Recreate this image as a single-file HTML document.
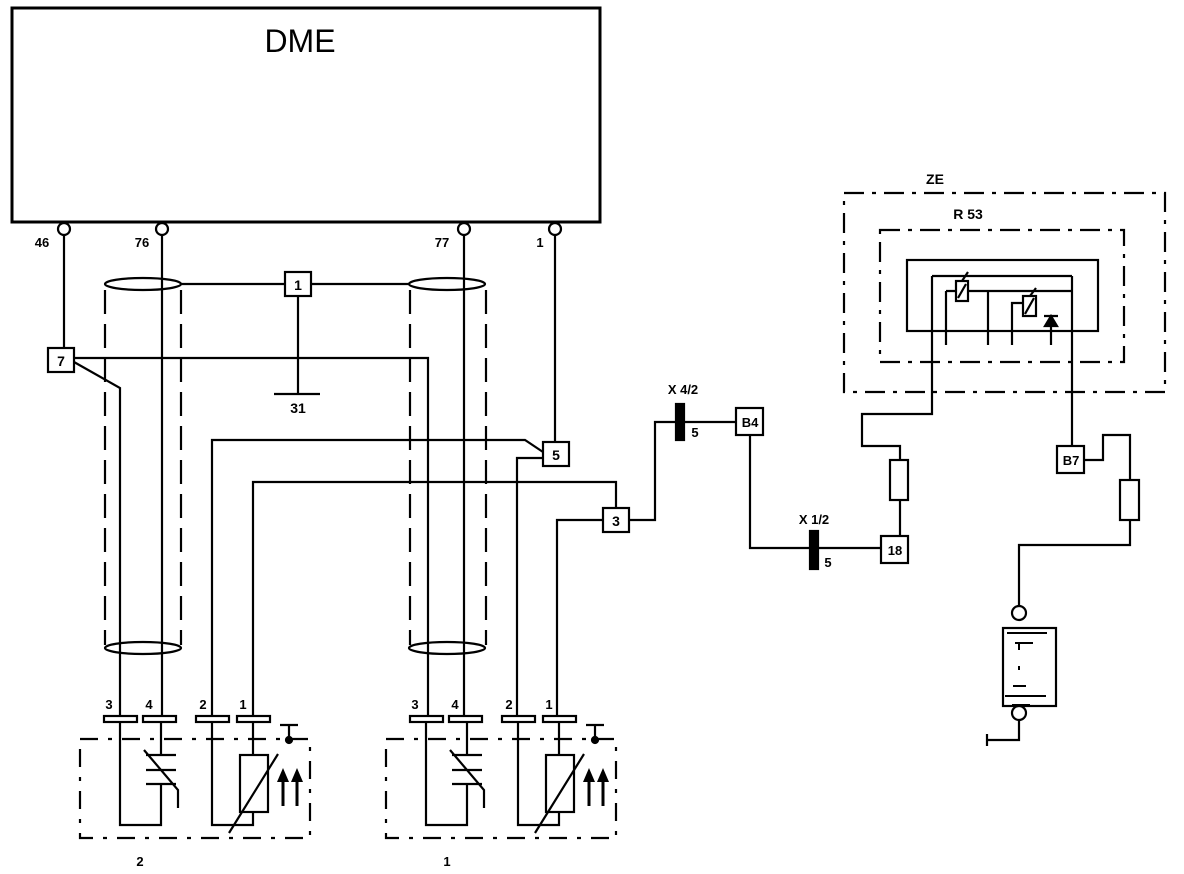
<!DOCTYPE html>
<html><head><style>html,body{margin:0;padding:0;background:#fff}svg{display:block}</style></head>
<body>
<svg width="1184" height="874" viewBox="0 0 1184 874" xmlns="http://www.w3.org/2000/svg" font-family="Liberation Sans, sans-serif" font-weight="bold" fill="none" stroke="#000" stroke-width="2.2">
<rect x="12" y="8" width="588" height="214" stroke-width="3"/>
<text x="300" y="52" font-size="32" font-weight="normal" fill="#000" stroke="none" text-anchor="middle">DME</text>
<g fill="#fff"><circle cx="64" cy="229" r="6"/><circle cx="162" cy="229" r="6"/><circle cx="464" cy="229" r="6"/><circle cx="555" cy="229" r="6"/></g>
<g font-size="13" fill="#000" stroke="none" text-anchor="middle"><text x="42" y="247">46</text><text x="142" y="247">76</text><text x="442" y="247">77</text><text x="540" y="247">1</text></g>
<path d="M64 235V348M162 235V715M464 235V715M555 235V442"/>
<rect x="48" y="348" width="26" height="24" fill="#fff"/><text x="61" y="366" font-size="14" fill="#000" stroke="none" text-anchor="middle">7</text>
<ellipse cx="143" cy="284" rx="38" ry="6"/><ellipse cx="447" cy="284" rx="38" ry="6"/>
<ellipse cx="143" cy="648" rx="38" ry="6"/><ellipse cx="447" cy="648" rx="38" ry="6"/>
<g stroke-dasharray="24,10"><path d="M105 290V645M181 290V645M410 290V645M486 290V645"/></g>
<path d="M181 284H285M311 284H410"/>
<rect x="285" y="272" width="26" height="24" fill="#fff"/><text x="298" y="290" font-size="14" fill="#000" stroke="none" text-anchor="middle">1</text>
<path d="M298 296V393M274 394H320" />
<text x="298" y="413" font-size="14" fill="#000" stroke="none" text-anchor="middle">31</text>
<path d="M74 358H428V715M74 362L120 388V715"/>
<rect x="543" y="442" width="26" height="24" fill="#fff"/><text x="556" y="460" font-size="14" fill="#000" stroke="none" text-anchor="middle">5</text>
<path d="M543 452L525 440H212V715M543 458H517V715"/>
<rect x="603" y="508" width="26" height="24" fill="#fff"/><text x="616" y="526" font-size="14" fill="#000" stroke="none" text-anchor="middle">3</text>
<path d="M616 508V482H253V715M603 520H557V715M629 520H655V422H736"/>
<rect x="676" y="404" width="8" height="36" fill="#000"/>
<text x="683" y="394" font-size="13" fill="#000" stroke="none" text-anchor="middle">X 4/2</text>
<text x="695" y="437" font-size="13" fill="#000" stroke="none" text-anchor="middle">5</text>
<rect x="736" y="408" width="27" height="27" fill="#fff"/><text x="750" y="427" font-size="13" fill="#000" stroke="none" text-anchor="middle">B4</text>
<path d="M750 435V548H881"/>
<rect x="810" y="531" width="8" height="38" fill="#000"/>
<text x="814" y="524" font-size="13" fill="#000" stroke="none" text-anchor="middle">X 1/2</text>
<text x="828" y="567" font-size="13" fill="#000" stroke="none" text-anchor="middle">5</text>
<rect x="881" y="536" width="27" height="27" fill="#fff"/><text x="895" y="555" font-size="13" fill="#000" stroke="none" text-anchor="middle">18</text>
<path d="M900 536V500M900 460V446H862V414H932V276"/>
<rect x="890" y="460" width="18" height="40" fill="#fff"/>
<rect x="844" y="193" width="321" height="199" stroke-dasharray="20,8,4,8"/>
<text x="935" y="184" font-size="14" fill="#000" stroke="none" text-anchor="middle">ZE</text>
<rect x="880" y="230" width="244" height="132" stroke-dasharray="20,8,4,8"/>
<text x="968" y="219" font-size="14" fill="#000" stroke="none" text-anchor="middle">R 53</text>
<rect x="907" y="260" width="191" height="71"/>
<path d="M932 276H1072M1072 276V294M946 291H1072M946 291V345M988 291V345M1012 305V345M1051 320V345"/>
<rect x="956" y="281" width="12" height="20" fill="#fff"/><path d="M958 298L966 284M962 281L968 272"/>
<rect x="1023" y="296" width="13" height="20" fill="#fff"/><path d="M1012 305V303H1023M1025 314L1034 298M1030 296L1036 288"/>
<path d="M1045 326H1057L1051 316ZM1044 316H1058" fill="#000"/>
<path d="M1072 294V446"/>
<rect x="1057" y="446" width="27" height="27" fill="#fff"/><text x="1071" y="465" font-size="13" fill="#000" stroke="none" text-anchor="middle">B7</text>
<path d="M1084 460H1103V435H1130V480M1130 520V545H1019V606"/>
<rect x="1120" y="480" width="19" height="40" fill="#fff"/>
<circle cx="1019" cy="613" r="7" fill="#fff"/>
<rect x="1003" y="628" width="53" height="78"/>
<path d="M1007 633H1047M1015 643H1033M1019 643V650M1019 666V670M1013 686H1026M1005 696H1046M1012 705H1030" stroke-width="2"/>
<circle cx="1019" cy="713" r="7" fill="#fff"/>
<path d="M1019 720V740H987M987 734V746"/>
<g id="s">
<g font-size="13" fill="#000" stroke="none" text-anchor="middle"><text x="109" y="709">3</text><text x="149" y="709">4</text><text x="203" y="709">2</text><text x="243" y="709">1</text></g>
<g fill="#fff"><rect x="104" y="716" width="33" height="6"/><rect x="143" y="716" width="33" height="6"/><rect x="196" y="716" width="33" height="6"/><rect x="237" y="716" width="33" height="6"/></g>
<path d="M120 722V825H161V784M161 722V755M146 755H176M146 770H176M146 784H176M144 750L178 790V808M212 722V825H253V812M253 722V755" />
<rect x="240" y="755" width="28" height="57" fill="#fff"/>
<path d="M229 833L278 754M280 725H298M289 725V740"/>
<circle cx="289" cy="740" r="3" fill="#000"/>
<path d="M283 806V780M297 806V780" stroke-width="3"/>
<path d="M277 782L283 768L289 782ZM291 782L297 768L303 782Z" fill="#000" stroke="none"/>
<rect x="80" y="739" width="230" height="99" stroke-dasharray="18,10,4,10"/>
</g>
<use href="#s" x="306"/>
<text x="140" y="866" font-size="13" fill="#000" stroke="none" text-anchor="middle">2</text>
<text x="447" y="866" font-size="13" fill="#000" stroke="none" text-anchor="middle">1</text>
</svg>
</body></html>
